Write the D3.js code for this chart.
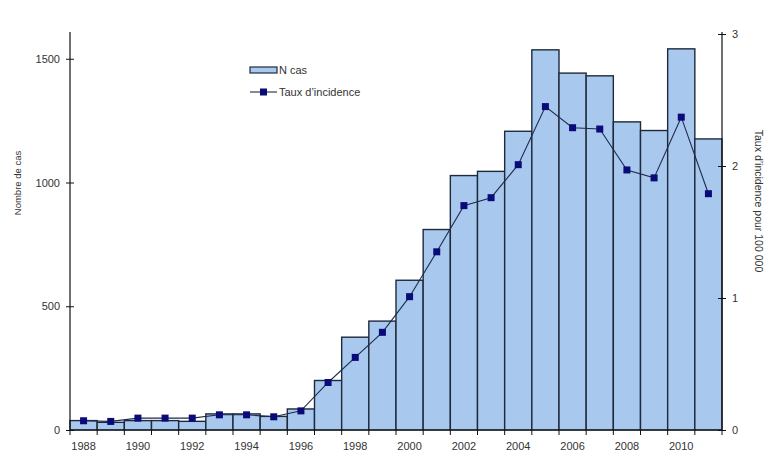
<!DOCTYPE html>
<html>
<head>
<meta charset="utf-8">
<script src="https://cdn.jsdelivr.net/npm/d3@7"></script>
<style>
  body { margin: 0; background: #fff; }
  svg { font-family: "Liberation Sans", Arial, sans-serif; }
</style>
</head>
<body>
<div id="chart"></div>
<script>
// Data
const years = [1988, 1989, 1990, 1991, 1992, 1993, 1994, 1995, 1996, 1997, 1998, 1999,
  2000, 2001, 2002, 2003, 2004, 2005, 2006, 2007, 2008, 2009, 2010, 2011]
const cases = [38, 31, 38, 38, 35, 65, 65, 55, 85, 200, 375, 440,
  605, 810, 1028, 1045, 1207, 1536, 1442, 1431, 1245, 1210, 1540, 1176]
const incidence = [0.07, 0.065, 0.09, 0.09, 0.09, 0.115, 0.115, 0.10, 0.145, 0.36, 0.55, 0.74,
  1.01, 1.35, 1.70, 1.76, 2.01, 2.45, 2.29, 2.28, 1.97, 1.91, 2.37, 1.79]
const leftTicks = [0, 500, 1000, 1500]
const rightTicks = [0, 1, 2, 3]
const labelYears = [1988, 1990, 1992, 1994, 1996, 1998, 2000, 2002, 2004, 2006, 2008, 2010]

const W = 769, H = 454
const margin = { top: 34, right: 47, bottom: 24, left: 70 }
const width = W - margin.left - margin.right
const height = H - margin.top - margin.bottom

const svg = d3.select("#chart").append("svg")
  .attr("width", W)
  .attr("height", H)

const g = svg.append("g")
  .attr("transform", `translate(${margin.left},${margin.top})`)

const x = d3.scaleBand().domain(years).range([0, width]).padding(0)
const yL = d3.scaleLinear().domain([0, 1600]).range([height, 0])
const yR = d3.scaleLinear().domain([0, 3]).range([height, 0])

// Bars
g.selectAll(".bar")
  .data(years)
  .enter()
  .append("rect")
  .attr("class", "bar")
  .attr("x", d => x(d))
  .attr("y", (d, i) => yL(cases[i]))
  .attr("width", x.bandwidth())
  .attr("height", (d, i) => height - yL(cases[i]))
  .attr("fill", "#a8c8ee")
  .attr("stroke", "#1e2a3c")
  .attr("stroke-width", 1.4)

// Line
const line = d3.line()
  .x((d, i) => x(years[i]) + x.bandwidth() / 2)
  .y(d => yR(d))

g.append("path")
  .datum(incidence)
  .attr("fill", "none")
  .attr("stroke", "#1f2b4a")
  .attr("stroke-width", 1.1)
  .attr("d", line)

g.selectAll(".pt")
  .data(incidence)
  .enter()
  .append("rect")
  .attr("class", "pt")
  .attr("x", (d, i) => x(years[i]) + x.bandwidth() / 2 - 3.5)
  .attr("y", d => yR(d) - 3.5)
  .attr("width", 7)
  .attr("height", 7)
  .attr("fill", "#0a0a78")

// Axes
const axisColor = "#111"
const textColor = "#333"

// x axis: ticks at category boundaries
const xb = g.append("g").attr("transform", `translate(0,${height})`)
xb.append("line").attr("x1", 0).attr("x2", width).attr("stroke", axisColor).attr("stroke-width", 1.2)
xb.selectAll(".xt")
  .data(years.concat([null]))
  .enter()
  .append("line")
  .attr("x1", (d, i) => i * x.step())
  .attr("x2", (d, i) => i * x.step())
  .attr("y1", 0)
  .attr("y2", 5)
  .attr("stroke", axisColor)
xb.selectAll(".xl")
  .data(labelYears)
  .enter()
  .append("text")
  .attr("x", d => x(d) + x.bandwidth() / 2)
  .attr("y", 20)
  .attr("text-anchor", "middle")
  .attr("font-size", 11)
  .attr("fill", textColor)
  .text(d => d)

// left axis
const yAxisL = d3.axisLeft(yL).tickValues(leftTicks).tickFormat(d3.format("d")).tickSize(4).tickPadding(6)
const gl = g.append("g").call(yAxisL)
gl.select(".domain").attr("d", `M0,${height}V-2`).attr("stroke", axisColor).attr("stroke-width", 1.2)
gl.selectAll(".tick line").attr("x2", -4).attr("x1", 4).attr("stroke", axisColor)
gl.selectAll(".tick text").attr("font-size", 11).attr("fill", textColor).attr("font-family", "Liberation Sans, Arial, sans-serif")

// right axis
const yAxisR = d3.axisRight(yR).tickValues(rightTicks).tickFormat(d3.format("d")).tickSize(4).tickPadding(6)
const gr = g.append("g").attr("transform", `translate(${width},0)`).call(yAxisR)
gr.select(".domain").attr("d", `M0,${height}V-2`).attr("stroke", axisColor).attr("stroke-width", 1.2)
gr.selectAll(".tick line").attr("x1", -4).attr("x2", 4).attr("stroke", axisColor)
gr.selectAll(".tick text").attr("font-size", 11).attr("fill", textColor).attr("font-family", "Liberation Sans, Arial, sans-serif")

// Axis titles
svg.append("text")
  .attr("transform", "translate(21,183) rotate(-90)")
  .attr("text-anchor", "middle")
  .attr("font-size", 9.5)
  .attr("fill", textColor)
  .text("Nombre de cas")

svg.append("text")
  .attr("transform", "translate(755,201) rotate(90)")
  .attr("text-anchor", "middle")
  .attr("font-size", 10.5)
  .attr("fill", textColor)
  .text("Taux d\u2019incidence pour 100 000")

// Legend
const legend = svg.append("g").attr("transform", "translate(250,70)")
legend.append("rect")
  .attr("x", 0).attr("y", -3).attr("width", 27).attr("height", 6)
  .attr("fill", "#a8c8ee").attr("stroke", "#1e2a3c").attr("stroke-width", 1.2)
legend.append("text")
  .attr("x", 29).attr("y", 4)
  .attr("font-size", 11).attr("fill", textColor)
  .text("N cas")
legend.append("line")
  .attr("x1", 0).attr("x2", 27).attr("y1", 22).attr("y2", 22)
  .attr("stroke", "#1f2b4a").attr("stroke-width", 1.1)
legend.append("rect")
  .attr("x", 10).attr("y", 18.5).attr("width", 7).attr("height", 7)
  .attr("fill", "#0a0a78")
legend.append("text")
  .attr("x", 29).attr("y", 26)
  .attr("font-size", 11).attr("fill", textColor)
  .text("Taux d\u2019incidence")
</script>
</body>
</html>
